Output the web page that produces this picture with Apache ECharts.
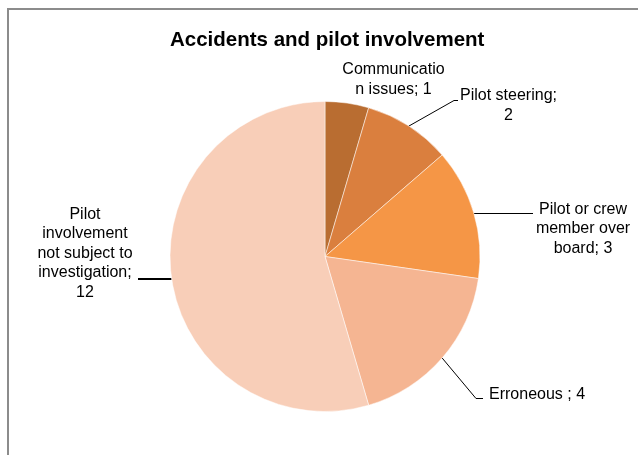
<!DOCTYPE html>
<html>
<head>
<meta charset="utf-8">
<script src="https://cdn.jsdelivr.net/npm/echarts@6/dist/echarts.min.js"></script>
<style>
html,body{margin:0;padding:0;background:#fff;}
#frame{position:absolute;left:7px;top:8px;width:640px;height:460px;border:2px solid #8c8c8c;box-sizing:border-box;}
#chart{position:absolute;left:0;top:0;width:638px;height:455px;}
</style>
</head>
<body>
<div id="frame"></div>
<div id="chart"></div>
<script>
const title = 'Accidents and pilot involvement';
const categories = ['Communicatio\nn issues', 'Pilot steering;\n', 'Pilot or crew\nmember over\nboard', 'Erroneous ', 'Pilot\ninvolvement\nnot subject to\ninvestigation;\n'];
const labelSeparators = ['; ', '', '; ', '; ', ''];
const values = [1, 2, 3, 4, 12];
const colors = ['#B96D31', '#DA7F3E', '#F59646', '#F5B592', '#F8CEB8'];

// label placement (relative to chart), not data
const CX = 325, CY = 256.5, R = 155;
const labelAnchors = [
  {x: 393.5, y: 79.5, align: 'center', line: null, w: 1},
  {x: 508.5, y: 105.5, align: 'center', line: [[454, 100.5], [458, 100.5]], w: 1},
  {x: 583, y: 229, align: 'center', line: [[505, 213.5], [533, 213.5]], w: 1},
  {x: 489, y: 394.5, align: 'left', line: [[476, 398.5], [483, 398.5]], w: 1},
  {x: 85, y: 253.5, align: 'center', line: [[155, 279], [138, 279]], w: 2}
];

const total = values.reduce((a, b) => a + b, 0);
function edgePoint(i) {
  let cum = 0;
  for (let k = 0; k < i; k++) cum += values[k];
  const a = (cum + values[i] / 2) / total * Math.PI * 2;
  return [CX + R * Math.sin(a), CY - R * Math.cos(a)];
}

const chart = echarts.init(document.getElementById('chart'), null, {renderer: 'canvas'});
chart.setOption({
  animation: false,
  title: {
    text: title, left: 165, top: 25,
    textStyle: {fontFamily: 'Liberation Sans', fontSize: 20.5, fontWeight: 'bold', color: '#000'}
  },
  series: [{
    type: 'pie',
    center: [CX, CY],
    radius: R,
    startAngle: 90,
    clockwise: true,
    silent: true,
    itemStyle: {borderColor: '#fff', borderWidth: 0.5},
    data: categories.map((c, i) => ({
      name: c, value: values[i], itemStyle: {color: colors[i]},
      labelLine: {lineStyle: {width: labelAnchors[i].w}}
    })),
    label: {
      show: true,
      formatter: p => p.name + labelSeparators[p.dataIndex] + p.value,
      fontFamily: 'Liberation Sans', fontSize: 16, color: '#000', lineHeight: 19.5
    },
    labelLine: {show: true, lineStyle: {color: '#000', width: 1}},
    labelLayout: function (params) {
      const i = params.dataIndex;
      const a = labelAnchors[i];
      const res = {x: a.x, y: a.y, align: a.align, verticalAlign: 'middle'};
      const e = edgePoint(i);
      if (a.line) {
        if (i === 2 || i === 4) e[1] = a.line[0][1];
        res.labelLinePoints = [e, a.line[0], a.line[1]];
      } else {
        res.labelLinePoints = [e, e, e];
      }
      return res;
    }
  }]
});
</script>
</body>
</html>
